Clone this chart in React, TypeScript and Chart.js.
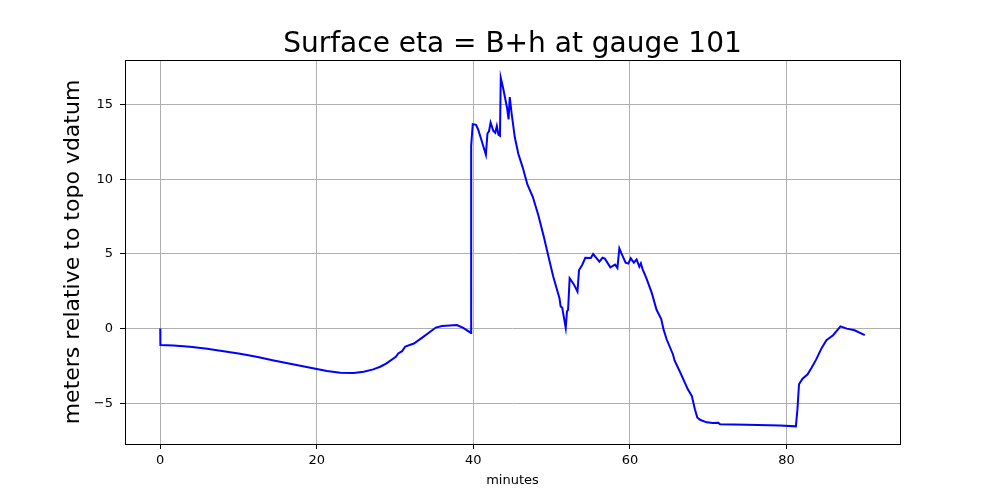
import React, { useEffect, useRef } from "react";
import { Chart, registerables } from "chart.js";

Chart.register(...registerables);

const minutes: number[] = [
  0, 0.02, 1.7, 3.8, 6, 8.1, 10.2, 12.3, 14.5, 16.6, 18.7, 20, 21.3, 23, 24.7, 26.0, 27.2, 28.1, 28.9, 30.1, 30.4, 30.9,
  31.3, 32.4, 33.6, 35.2, 36, 37.9, 38.7, 39.7,
  39.72, 39.92, 40.34, 40.6, 41.06, 41.6, 41.8, 42.0, 42.2, 42.55, 42.8, 43.0, 43.2, 43.4, 43.5, 43.8, 44.3, 44.5, 44.65,
  44.9, 45.3, 45.75, 46.3, 46.9, 47.6, 48.3, 49.0, 49.6, 50.2, 51.0, 51.15, 51.35, 51.8, 51.96, 52.1, 52.3, 52.8, 53.3,
  53.5, 53.9, 54.3, 55.0, 55.3, 56.1, 56.5, 56.8, 57.5, 58.1, 58.4, 58.65, 58.9, 59.45, 59.8, 60.1, 60.5, 60.85, 61.2,
  61.4, 61.6, 62.1, 62.8, 63.4, 64.0, 64.3, 64.7, 65.5, 65.7, 66.4, 67.4, 67.9, 68.3, 68.6, 68.95, 69.8, 70.6, 71.3,
  71.5, 74.9, 79.15, 81.2, 81.4, 81.6, 82.05, 82.7, 83.2, 83.8, 84.5, 85.1, 85.95, 86.9, 87.7, 88.7, 90.0,
];

const eta: number[] = [
  0, -1.1, -1.13, -1.22, -1.35, -1.51, -1.68, -1.88, -2.13, -2.35, -2.57, -2.7, -2.84, -2.95, -2.97, -2.88, -2.73, -2.55,
  -2.33, -1.88, -1.66, -1.51, -1.2, -1.0, -0.55, 0.07, 0.18, 0.24, 0.05, -0.29,
  12.23, 13.68, 13.63, 13.34, 12.57, 11.63, 13.05, 13.2, 13.79, 13.23, 13.1, 13.56, 12.97, 12.9, 16.78, 16.1, 14.78, 14.0,
  15.49, 14.34, 12.78, 11.68, 10.79, 9.64, 8.8, 7.58, 6.14, 4.81, 3.48, 2.04, 1.48, 1.4, 0.04, 1.15, 1.25, 3.37, 2.99,
  2.48, 3.92, 4.26, 4.74, 4.72, 4.99, 4.48, 4.74, 4.68, 4.1, 4.28, 4.06, 5.37, 5.05, 4.41, 4.35, 4.7, 4.41, 4.63, 4.14,
  4.37, 4.0, 3.37, 2.37, 1.26, 0.64, -0.07, -0.73, -1.73, -2.13, -2.9, -4.06, -4.5, -5.39, -5.94, -6.1, -6.27, -6.32,
  -6.3, -6.4, -6.43, -6.49, -6.54, -5.39, -3.72, -3.35, -3.06, -2.62, -2.06, -1.29, -0.78, -0.44, 0.15, 0.0, -0.11, -0.44,
];

const titleText = "Surface eta = B+h at gauge 101";
const xLabel = "minutes";
const yLabel = "meters relative to topo vdatum";
const xTicks: number[] = [0, 20, 40, 60, 80];
const yTicks: number[] = [-5, 0, 5, 10, 15];

const FONT = "'DejaVu Sans', sans-serif";

const fmt = (v: number) => (v < 0 ? "\u2212" + Math.abs(v) : String(v));

const framePlugin = {
  id: "frame",
  afterDraw(chart: any) {
    const { ctx, chartArea } = chart;
    ctx.save();
    ctx.strokeStyle = "#000";
    ctx.lineWidth = 1;
    ctx.strokeRect(
      Math.round(chartArea.left) + 0.5,
      Math.round(chartArea.top) + 0.5,
      Math.round(chartArea.right - chartArea.left),
      Math.round(chartArea.bottom - chartArea.top)
    );
    ctx.fillStyle = "#000";
    ctx.font = "28px " + FONT;
    ctx.textAlign = "center";
    ctx.textBaseline = "alphabetic";
    ctx.fillText(titleText, (chartArea.left + chartArea.right) / 2, 52);
    ctx.restore();
  },
};

export default function App() {
  const ref = useRef<HTMLCanvasElement | null>(null);
  useEffect(() => {
    if (!ref.current) return;
    const chart = new Chart(ref.current, {
      type: "line",
      data: {
        datasets: [
          {
            data: minutes.map((m, i) => ({ x: m, y: eta[i] })),
            borderColor: "#0000ff",
            borderWidth: 2,
            pointRadius: 0,
            tension: 0,
            fill: false,
          },
        ],
      },
      options: {
        animation: false,
        responsive: false,
        layout: { padding: { left: 0, right: 100, top: 60, bottom: 0 } },
        plugins: {
          legend: { display: false },
          tooltip: { enabled: false },
          title: { display: false },
        },
        scales: {
          x: {
            type: "linear",
            min: -4.5,
            max: 94.5,
            afterFit: (s: any) => {
              s.height = 56;
            },
            afterBuildTicks: (s: any) => {
              s.ticks = xTicks.map((v) => ({ value: v }));
            },
            ticks: {
              color: "#000",
              font: { family: FONT, size: 13 },
              padding: 4,
              maxRotation: 0,
              includeBounds: false,
              callback: (v: any) => fmt(Number(v)),
            },
            grid: { color: "#b0b0b0", lineWidth: 1, tickLength: 5, tickColor: "#000" },
            border: { display: false },
            title: {
              display: true,
              text: xLabel,
              color: "#000",
              font: { family: FONT, size: 13 },
              padding: { top: 0, bottom: 12 },
            },
          },
          y: {
            type: "linear",
            min: -7.72,
            max: 17.97,
            afterFit: (s: any) => {
              s.width = 125;
            },
            afterBuildTicks: (s: any) => {
              s.ticks = yTicks.map((v) => ({ value: v }));
            },
            ticks: {
              color: "#000",
              font: { family: FONT, size: 13 },
              padding: 7,
              includeBounds: false,
              callback: (v: any) => fmt(Number(v)),
            },
            grid: { color: "#b0b0b0", lineWidth: 1, tickLength: 5, tickColor: "#000" },
            border: { display: false },
            title: {
              display: true,
              text: yLabel,
              color: "#000",
              font: { family: FONT, size: 22 },
              padding: { top: 60, bottom: 0 },
            },
          },
        },
      },
      plugins: [framePlugin],
    });
    return () => chart.destroy();
  }, []);
  return (
    <div style={{ position: "absolute", left: 0, top: 0, width: 1000, height: 500, background: "#fff" }}>
      <canvas ref={ref} width={1000} height={500} style={{ display: "block" }} />
    </div>
  );
}
